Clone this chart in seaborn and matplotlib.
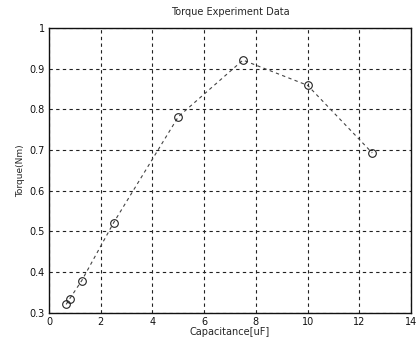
import matplotlib
matplotlib.use("Agg")
import matplotlib.pyplot as plt
import seaborn as sns
import pandas as pd
from matplotlib.ticker import FuncFormatter

capacitance = [0.66, 0.8, 1.26, 2.5, 5.0, 7.5, 10.0, 12.5]
torque = [0.321, 0.335, 0.379, 0.522, 0.782, 0.921, 0.859, 0.693]
x_ticks = [0, 2, 4, 6, 8, 10, 12, 14]
y_ticks = [0.3, 0.4, 0.5, 0.6, 0.7, 0.8, 0.9, 1.0]

sns.set_style("white")
plt.rcParams['font.family'] = ['DejaVu Sans']

df = pd.DataFrame({"Capacitance": capacitance, "Torque": torque})

fig = plt.figure(figsize=(4.16, 3.45), dpi=100)
ax = fig.add_axes([0.118, 0.093, 0.870, 0.826])

sns.lineplot(data=df, x="Capacitance", y="Torque", ax=ax, color="#444444",
             linestyle=(0, (3, 3)), linewidth=0.8, marker="o",
             markersize=5.5, markerfacecolor="none", markeredgecolor="#222222",
             markeredgewidth=0.8, sort=False)

ax.set_xlim(0, 14)
ax.set_ylim(0.3, 1.0)
ax.set_xticks(x_ticks)
ax.set_yticks(y_ticks)
ax.yaxis.set_major_formatter(FuncFormatter(lambda v, p: "%g" % v))
ax.grid(True, color="#222222", linestyle=(0, (3, 3)), linewidth=0.8)
ax.tick_params(direction="in", length=3, labelsize=7, colors="#111111", pad=3)
for s in ax.spines.values():
    s.set_color("#111111")
    s.set_linewidth(1.0)

ax.set_title("Torque Experiment Data", fontsize=7, pad=9)
ax.set_xlabel("Capacitance[uF]", fontsize=7, labelpad=0)
ax.set_ylabel("Torque(Nm)", fontsize=6.5, labelpad=3)

fig.savefig("out.png", dpi=100)
